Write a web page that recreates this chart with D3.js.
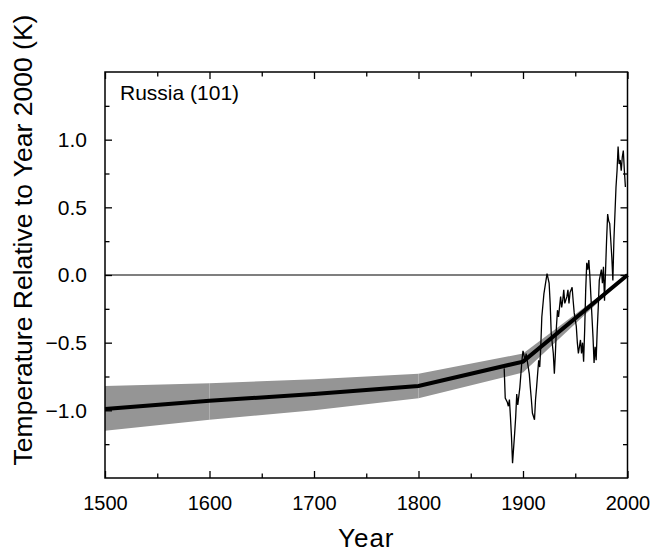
<!DOCTYPE html>
<html>
<head>
<meta charset="utf-8">
<script src="https://cdn.jsdelivr.net/npm/d3@7"></script>
<style>
  body { margin: 0; background: #fff; }
  svg text { font-family: "Liberation Sans", Arial, sans-serif; fill: #000; }
</style>
</head>
<body>
<svg id="chart" width="652" height="552"></svg>
<script>
// Borehole reconstruction (century nodes) and its uncertainty band
const recYears = [1500, 1600, 1700, 1800, 1900, 2000];
const recValues = [-0.99, -0.93, -0.88, -0.82, -0.64, 0.0];
const recUpper = [-0.82, -0.80, -0.77, -0.73, -0.58, 0.0];
const recLower = [-1.15, -1.07, -1.00, -0.91, -0.72, 0.0];

// Surface air temperature record
const obsYears = [1882, 1883, 1885, 1886, 1887, 1888, 1889, 1890, 1892, 1893, 1894, 1895, 1897, 1898,
    1899, 1900, 1902, 1903, 1904, 1906, 1907, 1908, 1909, 1911, 1912, 1913, 1915, 1916, 1917, 1918,
    1920, 1922, 1923, 1925, 1926, 1927, 1929, 1930, 1931, 1932, 1933, 1934, 1936, 1937, 1938, 1939,
    1940, 1942, 1943, 1944, 1945, 1947, 1948, 1949, 1951, 1952, 1953, 1955, 1956, 1957, 1958, 1959,
    1960, 1961, 1962, 1963, 1964, 1965, 1966, 1967, 1968, 1969, 1970, 1971, 1972, 1973, 1975, 1976,
    1977, 1978, 1980, 1981, 1982, 1983, 1985, 1986, 1987, 1989, 1990, 1991, 1992, 1993, 1994, 1995,
    1996, 1997, 1998];
const obsValues = [-0.69, -0.91, -0.94, -0.97, -0.92, -1.05, -1.20, -1.39, -1.17, -1.05, -0.88, -0.96, -0.83, -0.73,
    -0.63, -0.56, -0.63, -0.58, -0.63, -0.73, -0.83, -0.92, -1.02, -1.07, -0.92, -0.83, -0.63, -0.68, -0.53, -0.31,
    -0.14, -0.04, 0.01, -0.06, -0.21, -0.43, -0.58, -0.73, -0.58, -0.38, -0.26, -0.31, -0.16, -0.24, -0.19, -0.11,
    -0.21, -0.16, -0.11, -0.21, -0.13, -0.09, -0.19, -0.28, -0.38, -0.50, -0.58, -0.48, -0.58, -0.50, -0.64, -0.41,
    -0.11, 0.09, 0.04, 0.11, -0.01, -0.16, -0.31, -0.46, -0.65, -0.53, -0.63, -0.41, -0.24, -0.04, 0.04, -0.06,
    0.06, -0.19, 0.26, 0.45, 0.40, 0.38, 0.13, -0.04, 0.26, 0.65, 0.77, 0.95, 0.82, 0.85, 0.77, 0.87,
    0.92, 0.77, 0.65];

const xTickValues = [1500, 1600, 1700, 1800, 1900, 2000];
const yTickValues = [-1.0, -0.5, 0.0, 0.5, 1.0];
const panelLabel = 'Russia (101)';

const svg = d3.select('svg#chart'),
    svgWidth = 652,
    svgHeight = 552,
    margin = { top: 72, right: 24.5, bottom: 74, left: 105 },
    width = svgWidth - margin.left - margin.right,
    height = svgHeight - margin.top - margin.bottom;

const bandColor = '#959595',
    majorTick = 7,
    minorTick = 4.5;

const x = d3.scaleLinear().domain([1500, 2000]).range([margin.left, margin.left + width]);
const y = d3.scaleLinear().domain([-1.5, 1.5]).range([margin.top + height, margin.top]);

const rec = recYears.map((yr, i) => ({ year: yr, v: recValues[i], hi: recUpper[i], lo: recLower[i] }));
const obs = obsYears.map((yr, i) => ({ year: yr, v: obsValues[i] }));

const plot = svg.append('g');

// uncertainty band, one piece per century
const band = d3.area()
    .x(d => x(d.year))
    .y0(d => y(d.lo))
    .y1(d => y(d.hi));
for (let i = 0; i < rec.length - 1; i++) {
    plot.append('path')
        .datum([rec[i], rec[i + 1]])
        .attr('d', band)
        .attr('fill', bandColor);
}

// zero line
plot.append('line')
    .attr('x1', x(1500)).attr('x2', x(2000))
    .attr('y1', y(0)).attr('y2', y(0))
    .attr('stroke', '#000').attr('stroke-width', 1.2);

// observed record
plot.append('path')
    .datum(obs)
    .attr('d', d3.line().x(d => x(d.year)).y(d => y(d.v)))
    .attr('fill', 'none')
    .attr('stroke', '#000')
    .attr('stroke-width', 1.3)
    .attr('stroke-linejoin', 'miter');

// reconstruction
plot.append('path')
    .datum(rec)
    .attr('d', d3.line().x(d => x(d.year)).y(d => y(d.v)))
    .attr('fill', 'none')
    .attr('stroke', '#000')
    .attr('stroke-width', 4);

// axes: ticks inward on all four sides
const xMinor = d3.range(1550, 2000, 100);
const yMinor = [-1.25, -0.75, -0.25, 0.25, 0.75, 1.25];

function addAxis(axisFn, scale, transform, major, minor, labels) {
    const g = svg.append('g').attr('transform', transform);
    g.call(axisFn(scale).tickValues(major).tickSize(-majorTick).tickPadding(majorTick + 11)
        .tickFormat(labels ? (axisFn === d3.axisLeft ? d3.format('.1f') : d3.format('d')) : ''));
    g.selectAll('.tick line').attr('stroke-width', 1.3);
    const m = svg.append('g').attr('transform', transform);
    m.call(axisFn(scale).tickValues(minor).tickSize(-minorTick).tickFormat(''));
    m.selectAll('.tick line').attr('stroke-width', 1.3);
    m.select('.domain').remove();
    g.select('.domain').remove();
    return g;
}

const bottomAxis = addAxis(d3.axisBottom, x, `translate(0,${margin.top + height})`, xTickValues, xMinor, true);
bottomAxis.selectAll('text').attr('font-size', 20).attr('dy', '0.72em');
addAxis(d3.axisTop, x, `translate(0,${margin.top})`, xTickValues, xMinor, false);
const leftAxis = addAxis(d3.axisLeft, y, `translate(${margin.left},0)`, yTickValues, yMinor, true);
leftAxis.selectAll('text').attr('font-size', 21);
addAxis(d3.axisRight, y, `translate(${margin.left + width},0)`, yTickValues, yMinor, false);

// frame
svg.append('rect')
    .attr('x', margin.left).attr('y', margin.top)
    .attr('width', width).attr('height', height)
    .attr('fill', 'none').attr('stroke', '#000').attr('stroke-width', 1.5);

svg.append('text')
    .text(panelLabel)
    .attr('x', 120).attr('y', 100)
    .attr('font-size', 21);

svg.append('text')
    .text('Year')
    .attr('x', margin.left + width / 2)
    .attr('y', 547)
    .attr('text-anchor', 'middle')
    .attr('font-size', 26)
    .attr('letter-spacing', 1);

svg.append('text')
    .text('Temperature Relative to Year 2000 (K)')
    .attr('transform', `translate(32,${240}) rotate(-90)`)
    .attr('text-anchor', 'middle')
    .attr('font-size', 26.5);
</script>
</body>
</html>
